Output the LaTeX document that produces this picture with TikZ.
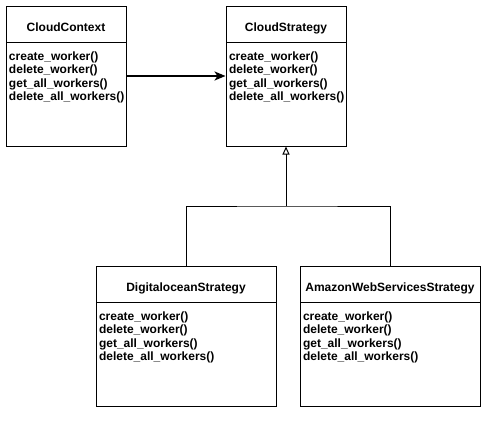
\documentclass[tikz,border=0pt]{standalone}
\usepackage{fontspec}
\setmainfont{Liberation Sans}
\usetikzlibrary{arrows.meta}
\usetikzlibrary{positioning}

\begin{document}
\begin{tikzpicture}[x=1pt, y=-1pt, line width=1pt,
  cls/.style={draw, minimum height=140pt, inner sep=0},
  title/.style={draw, minimum height=36pt, inner sep=0, text height=14pt, text depth=0pt,
    font=\bfseries\fontsize{12}{13.5}\selectfont},
  ops/.style={align=left, inner sep=0, font=\bfseries\fontsize{12}{13.5}\selectfont}]
\useasboundingbox[fill=white] (0,0) rectangle (496,421);
\foreach \n/\x/\y/\w/\t in {ctx/66/76/120/CloudContext, strat/286/76/120/CloudStrategy,
  dig/186/336/180/DigitaloceanStrategy, aws/390/336/180/AmazonWebServicesStrategy} {
 \node[cls, minimum width=\w pt] (\n) at (\x,\y) {};
 \node[title, minimum width=\w pt, below=0pt of \n.north] (\n-t) {\t};
 \node[ops, below right=8.7pt and 3pt of \n-t.south west] (\n-m)
   {create\_worker()\\delete\_worker()\\get\_all\_workers()\\delete\_all\_workers()};
}
\draw[-{Stealth[length=11pt, width=9pt, inset=3pt]}, line width=2pt] (ctx) -- (strat);
\coordinate (fork) at (286,206);
\draw (dig.north) |- (fork) -| (aws.north);
\draw[-{Triangle[open, length=8pt, width=7pt]}] (fork) -- (strat.south);
\end{tikzpicture}
\end{document}
